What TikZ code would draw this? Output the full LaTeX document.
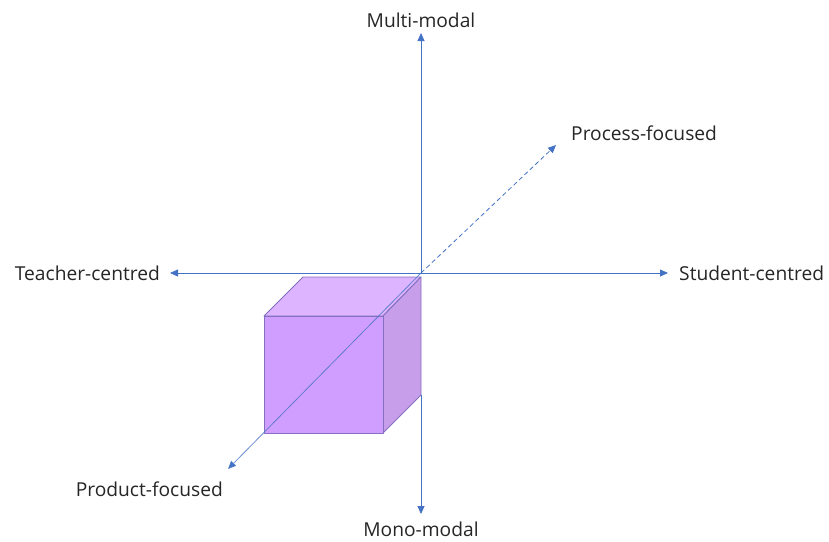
\documentclass[tikz,border=0pt]{standalone}
\usepackage{fontspec}
\setmainfont{Open Sans}
\usetikzlibrary{arrows.meta}
\definecolor{axis}{HTML}{4472C4}
\definecolor{cubetop}{HTML}{DDB4FF}
\definecolor{cubefront}{HTML}{D09EFF}
\definecolor{cubeside}{HTML}{C79EEA}
\definecolor{cubeedge}{HTML}{8470C0}
\tikzset{
  axisline/.style={draw=axis, line width=0.8pt, -{Triangle[width=7pt,length=8pt]}},
  lbl/.style={font=\fontsize{19.2}{23}\selectfont, text=black!85, inner sep=0pt},
  face/.style={draw=cubeedge, line width=0.9pt, line join=round},
}
\begin{document}
\begin{tikzpicture}[x=1pt,y=-1pt]
\useasboundingbox (0,0) rectangle (829,541);
\coordinate (O) at (421,273);
\coordinate (up) at (421,33);
\coordinate (down) at (421,514);
\coordinate (left) at (170,273);
\coordinate (right) at (668,273);
\coordinate (pro) at (556,145);
\coordinate (prod) at (228,469);
% cube
\coordinate (f1) at (264,316);
\coordinate (f2) at (383,316);
\coordinate (f3) at (383,433);
\coordinate (f4) at (264,433);
\coordinate (b1) at (303,277);
\coordinate (b2) at (421,277);
\coordinate (b3) at (421,395);
\draw[face, fill=cubetop] (f1) -- (b1) -- (b2) -- (f2) -- cycle;
\draw[face, fill=cubeside] (f2) -- (b2) -- (b3) -- (f3) -- cycle;
\draw[face, fill=cubefront] (f1) -- (f2) -- (f3) -- (f4) -- cycle;
% axes
\draw[axisline] (O) -- (up);
\draw[axisline] (b3) -- (down);
\draw[axisline] (O) -- (left);
\draw[axisline] (O) -- (right);
\draw[axisline, dash pattern=on 4.5pt off 3pt] (O) -- (pro);
\draw[axisline, draw opacity=0.8] (O) -- (prod);
% labels
\node[lbl, anchor=base] (lmulti) at (421,27) {Multi-modal};
\node[lbl, anchor=base west] (lproc) at (571,140) {Process-focused};
\node[lbl, anchor=base east] (lteach) at (160,280) {Teacher-centred};
\node[lbl, anchor=base west] (lstud) at (679,280) {Student-centred};
\node[lbl, anchor=base east] (lprod) at (223,496) {Product-focused};
\node[lbl, anchor=base] (lmono) at (421,536) {Mono-modal};
\end{tikzpicture}
\end{document}
